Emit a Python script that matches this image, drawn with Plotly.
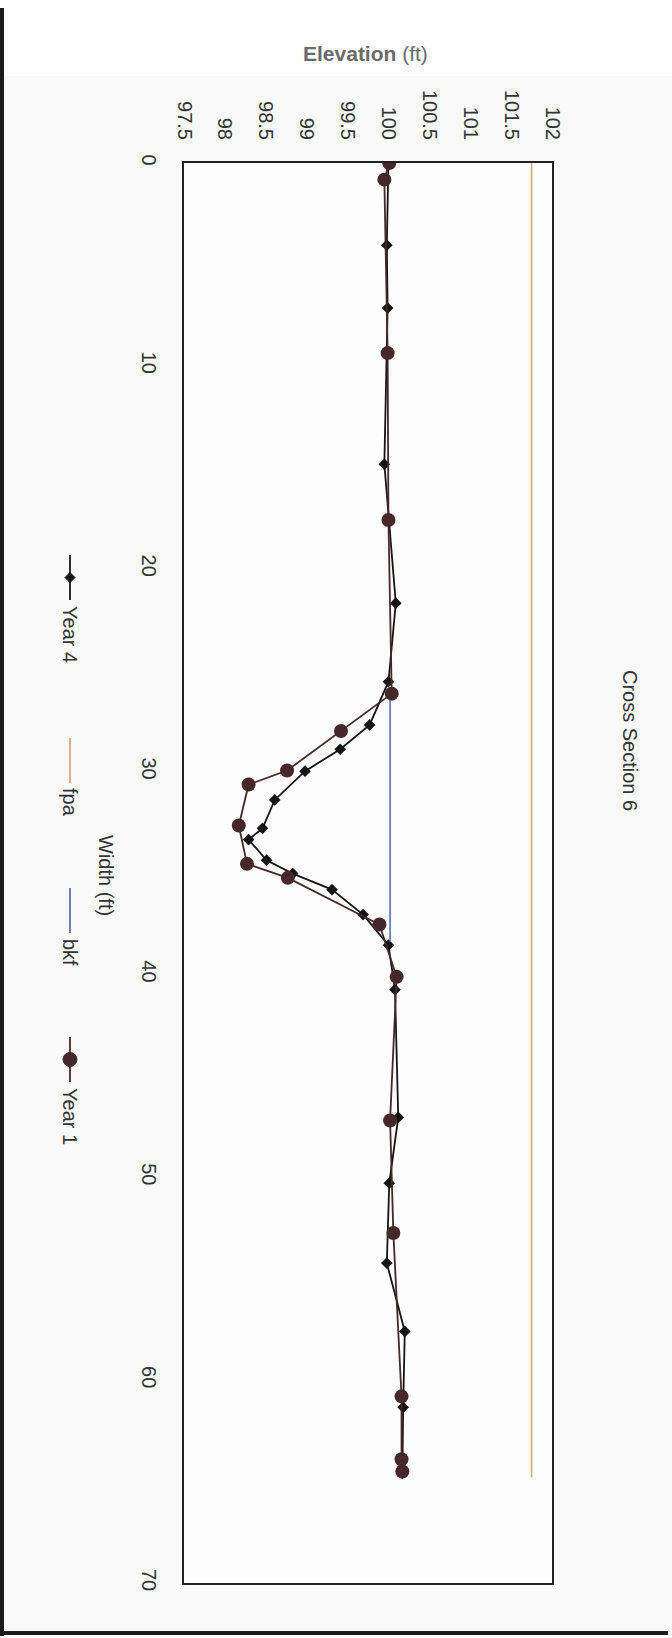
import plotly.graph_objects as go

# Cross section survey: horizontal distance across the channel (ft) and ground elevation (ft)
width_year4 = [0, 4.05, 7.15, 14.85, 21.7, 25.57, 27.7, 28.9, 29.98, 31.4, 32.8, 33.35,
               34.37, 35.03, 35.82, 37.05, 38.56, 40.75, 47.05, 50.29, 54.23, 57.6,
               61.34, 64.6]
elev_year4 = [100.0, 99.98, 99.99, 99.95, 100.09, 100.0, 99.77, 99.41, 98.98, 98.61,
              98.46, 98.29, 98.51, 98.83, 99.31, 99.69, 100.0, 100.08, 100.12, 100.01,
              99.98, 100.2, 100.18, 100.17]

width_year1 = [0, 0.82, 9.37, 17.6, 26.16, 28.0, 29.95, 30.64, 32.66, 34.55, 35.24,
               37.54, 40.12, 47.2, 52.75, 60.8, 63.9, 64.5]
elev_year1 = [100.01, 99.95, 99.99, 100.0, 100.04, 99.42, 98.76, 98.29, 98.17, 98.27,
              98.77, 99.89, 100.1, 100.02, 100.06, 100.16, 100.16, 100.17]

# flood-prone area and bankfull elevations
width_fpa = [0, 64.8]
elev_fpa = [101.75, 101.75]
width_bkf = [26.1, 38.4]
elev_bkf = [100.02, 100.02]

elev_ticks = [97.5, 98, 98.5, 99, 99.5, 100, 100.5, 101, 101.5, 102]
elev_tick_text = ["97.5", "98", "98.5", "99", "99.5", "100", "100.5", "101", "101.5", "102"]
width_ticks = [0, 10, 20, 30, 40, 50, 60, 70]

legend_names = ["Year 4", "fpa", "bkf", "Year 1"]

# page geometry (pixels)
W, H = 672, 1638
L, R, T, B = 184, 552, 163, 1583

COL_Y4 = "#151515"
COL_Y1 = "#46282a"
COL_FPA = "#d9a585"
COL_BKF = "#5b6fa8"
FONT = "Liberation Sans, Arial, sans-serif"


def px(x):
    return (x - L) / (R - L)


def py(y):
    return (B - y) / (B - T)


fig = go.Figure()
fig.add_trace(go.Scatter(x=elev_year4, y=width_year4, mode="lines+markers",
                         line=dict(color=COL_Y4, width=1.8),
                         marker=dict(symbol="diamond", size=9, color=COL_Y4),
                         name=legend_names[0]))
fig.add_trace(go.Scatter(x=elev_fpa, y=width_fpa, mode="lines",
                         line=dict(color=COL_FPA, width=1.6), name=legend_names[1]))
fig.add_trace(go.Scatter(x=elev_bkf, y=width_bkf, mode="lines",
                         line=dict(color=COL_BKF, width=1.6), name=legend_names[2]))
fig.add_trace(go.Scatter(x=elev_year1, y=width_year1, mode="lines+markers",
                         line=dict(color=COL_Y1, width=1.8),
                         marker=dict(symbol="circle", size=14, color=COL_Y1),
                         name=legend_names[3]))

shapes = []
annotations = []

# white strip at the very top of the page and the page frame lines
shapes.append(dict(type="rect", xref="paper", yref="paper", x0=px(0), x1=px(W),
                   y0=py(76), y1=py(0), fillcolor="white", line=dict(width=0), layer="below"))
shapes.append(dict(type="line", xref="paper", yref="paper", x0=px(2), x1=px(2),
                   y0=py(8), y1=py(1636), line=dict(color="#1a1a1a", width=4)))
shapes.append(dict(type="line", xref="paper", yref="paper", x0=px(0), x1=px(668),
                   y0=py(1633), y1=py(1633), line=dict(color="#1a1a1a", width=4)))

# titles
annotations.append(dict(xref="paper", yref="paper", x=px(365), y=py(54),
                        text="<b>Elevation</b> (ft)", showarrow=False,
                        font=dict(family=FONT, size=21, color="#6a6a6a"),
                        xanchor="center", yanchor="middle"))
annotations.append(dict(xref="paper", yref="paper", x=px(630), y=py(740),
                        text="Cross Section 6", textangle=90, showarrow=False,
                        font=dict(family=FONT, size=20, color="#333333"),
                        xanchor="center", yanchor="middle"))
annotations.append(dict(xref="paper", yref="paper", x=px(106), y=py(875),
                        text="Width (ft)", textangle=90, showarrow=False,
                        font=dict(family=FONT, size=20, color="#333333"),
                        xanchor="center", yanchor="middle"))

# rotated legend along the left side
leg_x = 70
leg_entries = [
    (555, 600, 634, COL_Y4, "diamond"),
    (738, 783, 802, COL_FPA, None),
    (888, 933, 952, COL_BKF, None),
    (1037, 1082, 1116, COL_Y1, "circle"),
]
for (s0, s1, tc, col, sym), name in zip(leg_entries, legend_names):
    shapes.append(dict(type="line", xref="paper", yref="paper", x0=px(leg_x), x1=px(leg_x),
                       y0=py(s0), y1=py(s1), line=dict(color=col, width=1.8)))
    mid = (s0 + s1) / 2
    if sym == "diamond":
        r = 5
        path = (f"M {px(leg_x)} {py(mid - r)} L {px(leg_x + r)} {py(mid)} "
                f"L {px(leg_x)} {py(mid + r)} L {px(leg_x - r)} {py(mid)} Z")
        shapes.append(dict(type="path", xref="paper", yref="paper", path=path,
                           fillcolor=col, line=dict(color=col, width=1)))
    elif sym == "circle":
        r = 7
        shapes.append(dict(type="circle", xref="paper", yref="paper",
                           x0=px(leg_x - r), x1=px(leg_x + r), y0=py(mid + r), y1=py(mid - r),
                           fillcolor=col, line=dict(color=col, width=1)))
    annotations.append(dict(xref="paper", yref="paper", x=px(leg_x), y=py(tc),
                            text=name, textangle=90, showarrow=False,
                            font=dict(family=FONT, size=20, color="#333333"),
                            xanchor="center", yanchor="middle"))

fig.update_layout(
    width=W, height=H,
    margin=dict(l=L, r=W - R, t=T, b=H - B),
    paper_bgcolor="#f9f9f9",
    plot_bgcolor="#fdfdfd",
    showlegend=False,
    shapes=shapes,
    annotations=annotations,
    font=dict(family=FONT, size=20, color="#333333"),
    xaxis=dict(range=[97.5, 102], side="top", tickvals=elev_ticks, ticktext=elev_tick_text,
               tickangle=90, showgrid=False, zeroline=False, showline=True, mirror=True,
               linecolor="#222222", linewidth=2, ticks="", ticklabelstandoff=14,
               tickfont=dict(family=FONT, size=20, color="#333333")),
    yaxis=dict(range=[70, 0], tickvals=width_ticks, tickangle=90, showgrid=False,
               zeroline=False, showline=True, mirror=True, linecolor="#222222",
               linewidth=2, ticks="", ticklabelstandoff=16,
               tickfont=dict(family=FONT, size=20, color="#333333")),
)

fig.write_html("out.html")
